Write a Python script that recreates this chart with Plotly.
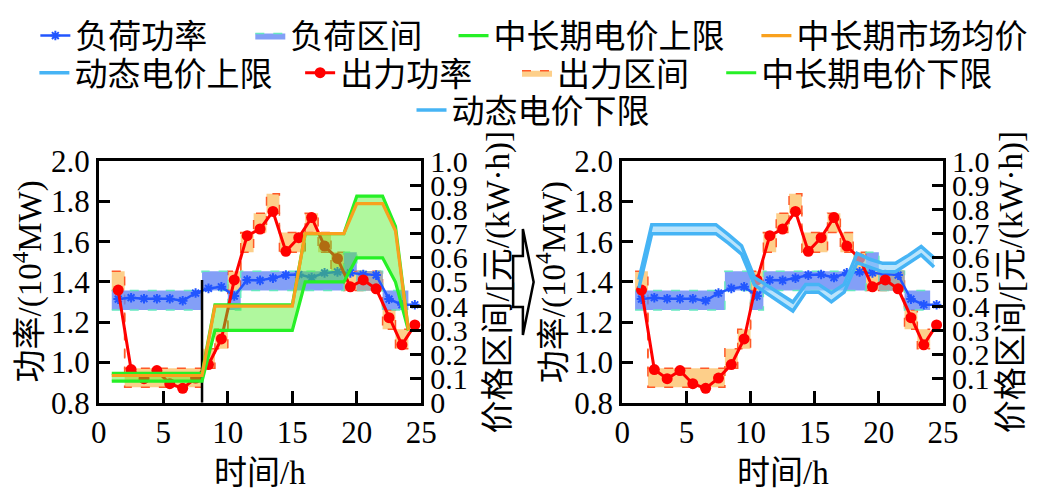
import plotly.graph_objects as go

# ---------------- data ----------------
pt_hours = [1.5, 2.5, 3.5, 4.5, 5.5, 6.5, 7.5, 8.5, 9.5, 10.5, 11.5, 12.5,
            13.5, 14.5, 15.5, 16.5, 17.5, 18.5, 19.5, 20.5, 21.5, 22.5, 23.5, 24.5]
load_power = [1.315, 1.322, 1.317, 1.317, 1.317, 1.307, 1.345, 1.368, 1.376, 1.330, 1.410, 1.408,
              1.419, 1.434, 1.437, 1.422, 1.445, 1.450, 1.445, 1.437, 1.434, 1.315, 1.287, 1.287]
output_power = [1.360, 0.965, 0.920, 0.960, 0.895, 0.872, 0.923, 0.990, 1.117, 1.410, 1.630, 1.663,
                1.750, 1.552, 1.620, 1.720, 1.578, 1.517, 1.376, 1.410, 1.366, 1.223, 1.088, 1.187]

band_edges = [1, 2, 3, 4, 5, 6, 7, 8, 9, 10, 11, 12, 13, 14, 15, 16, 17, 18, 19, 20, 21, 22, 23, 24]
load_band_low = [1.261, 1.261, 1.261, 1.261, 1.261, 1.261, 1.261, 1.358, 1.358, 1.261, 1.358, 1.358,
                 1.358, 1.358, 1.358, 1.358, 1.358, 1.358, 1.453, 1.358, 1.358, 1.261, 1.261]
load_band_high = [1.358, 1.358, 1.358, 1.358, 1.358, 1.358, 1.358, 1.453, 1.453, 1.358, 1.453, 1.453,
                  1.453, 1.453, 1.453, 1.453, 1.453, 1.453, 1.548, 1.453, 1.453, 1.358, 1.358]
output_band_low = [1.358, 0.877, 0.877, 0.877, 0.877, 0.877, 0.877, 0.972, 1.069, 1.358, 1.548, 1.645,
                   1.741, 1.548, 1.548, 1.645, 1.548, 1.453, 1.358, 1.358, 1.358, 1.165, 1.069]
output_band_high = [1.453, 0.972, 0.972, 0.972, 0.972, 0.972, 0.972, 1.069, 1.165, 1.453, 1.645, 1.741,
                    1.838, 1.645, 1.645, 1.741, 1.645, 1.548, 1.453, 1.453, 1.453, 1.261, 1.165]

price_hours = [1, 2, 3, 4, 5, 6, 7, 8, 9, 10, 11, 12, 13, 14, 15, 16, 17, 18, 19, 20, 21, 22, 23, 24]
mlt_upper = [0.122, 0.122, 0.122, 0.122, 0.122, 0.122, 0.122, 0.122, 0.405, 0.405, 0.405, 0.405,
             0.405, 0.405, 0.405, 0.700, 0.700, 0.700, 0.700, 0.855, 0.855, 0.855, 0.730, 0.300]
mlt_mean = [0.113, 0.113, 0.113, 0.113, 0.113, 0.113, 0.113, 0.113, 0.400, 0.400, 0.400, 0.400,
            0.400, 0.400, 0.400, 0.700, 0.700, 0.700, 0.700, 0.824, 0.824, 0.824, 0.712, 0.300]
mlt_lower = [0.090, 0.090, 0.090, 0.090, 0.090, 0.090, 0.090, 0.090, 0.300, 0.300, 0.300, 0.300,
             0.300, 0.300, 0.300, 0.500, 0.500, 0.500, 0.500, 0.600, 0.600, 0.600, 0.500, 0.300]

dyn_hours = [1.3, 2.3, 3.3, 4.3, 5.3, 6.3, 7.3, 8.3, 9.3, 10.3, 11.3, 12.3,
             13.3, 14.3, 15.3, 16.3, 17.3, 18.3, 19.3, 20.3, 21.3, 22.3, 23.3, 24.3]
dyn_upper = [0.510, 0.737, 0.737, 0.737, 0.737, 0.737, 0.737, 0.695, 0.650, 0.519, 0.485, 0.451,
             0.417, 0.490, 0.490, 0.455, 0.490, 0.618, 0.594, 0.577, 0.577, 0.610, 0.647, 0.600]
dyn_lower = [0.475, 0.700, 0.700, 0.700, 0.700, 0.700, 0.700, 0.660, 0.615, 0.488, 0.452, 0.415,
             0.380, 0.458, 0.458, 0.418, 0.458, 0.580, 0.562, 0.542, 0.542, 0.575, 0.612, 0.562]

divider_x = [8, 8]
divider_y = [0.8, 1.41]

x_ticks = [0, 5, 10, 15, 20, 25]
power_ticks = [0.8, 1.0, 1.2, 1.4, 1.6, 1.8, 2.0]
price_ticks = [0, 0.1, 0.2, 0.3, 0.4, 0.5, 0.6, 0.7, 0.8, 0.9, 1.0]
price_tick_text = ["0", "0.1", "0.2", "0.3", "0.4", "0.5", "0.6", "0.7", "0.8", "0.9", "1.0"]

# ---------------- styles ----------------
FONT = "Liberation Serif, Noto Sans CJK SC"
W, H = 1044, 498
C_LOAD = "#2256FF"
C_LOAD_FILL = "rgba(100,135,245,0.8)"
C_LOAD_EDGE = "#66E8C0"
C_OUT = "#FF0000"
C_OUT_FILL = "rgba(252,196,112,0.82)"
C_OUT_EDGE = "#FF5A28"
C_GREEN = "#26F026"
C_GREEN_FILL = "rgba(80,240,40,0.45)"
C_ORANGE = "#F9A11E"
C_DYN = "#46B4F5"
C_DYN_FILL = "rgba(140,210,250,0.6)"
C_GRAY = "#A9A9A9"

# legend slots: (legend id, text start x px, row centre y px)
LEG = {
    "负荷功率": ("legend", 68, 20),
    "负荷区间": ("legend2", 288, 20),
    "中长期电价上限": ("legend3", 496, 20),
    "中长期市场均价": ("legend4", 806, 20),
    "动态电价上限": ("legend5", 67, 60),
    "出力功率": ("legend6", 339, 60),
    "出力区间": ("legend7", 561, 60),
    "中长期电价下限": ("legend8", 770, 60),
    "动态电价下限": ("legend9", 453, 100),
}


def stair(vals):
    return list(vals) + [vals[-1]]


def leg(name, show):
    if not show:
        return dict(showlegend=False)
    return dict(name=name, showlegend=True, legend=LEG[name][0])


fig = go.Figure()


def add_power_panel(xa, ya, show_leg, divider):
    fig.add_trace(go.Scatter(x=band_edges, y=stair(output_band_low), xaxis=xa, yaxis=ya, mode="lines",
                             line=dict(color=C_OUT_EDGE, width=1.5, dash="dash", shape="hv"),
                             showlegend=False, hoverinfo="skip"))
    fig.add_trace(go.Scatter(x=band_edges, y=stair(output_band_high), xaxis=xa, yaxis=ya, mode="lines",
                             line=dict(color=C_OUT_EDGE, width=1.5, dash="dash", shape="hv"),
                             fill="tonexty", fillcolor=C_OUT_FILL, **leg("出力区间", show_leg)))
    fig.add_trace(go.Scatter(x=band_edges, y=stair(load_band_low), xaxis=xa, yaxis=ya, mode="lines",
                             line=dict(color=C_LOAD_EDGE, width=1.5, dash="dash", shape="hv"),
                             showlegend=False, hoverinfo="skip"))
    fig.add_trace(go.Scatter(x=band_edges, y=stair(load_band_high), xaxis=xa, yaxis=ya, mode="lines",
                             line=dict(color=C_LOAD_EDGE, width=1.5, dash="dash", shape="hv"),
                             fill="tonexty", fillcolor=C_LOAD_FILL, **leg("负荷区间", show_leg)))
    gx, gy = [], []
    for i in range(len(load_band_low)):
        lo = max(load_band_low[i], output_band_low[i])
        hi = min(load_band_high[i], output_band_high[i])
        if hi - lo > 1e-6:
            x0, x1 = band_edges[i], band_edges[i + 1]
            gx += [x0, x1, x1, x0, x0, None]
            gy += [lo, lo, hi, hi, lo, None]
    fig.add_trace(go.Scatter(x=gx, y=gy, xaxis=xa, yaxis=ya, mode="lines", fill="toself",
                             fillcolor=C_GRAY, line=dict(width=0), showlegend=False, hoverinfo="skip"))
    fig.add_trace(go.Scatter(x=pt_hours, y=load_power, xaxis=xa, yaxis=ya, mode="lines+markers",
                             line=dict(color=C_LOAD, width=2.5),
                             marker=dict(symbol="asterisk-open", size=8, color=C_LOAD,
                                         line=dict(color=C_LOAD, width=2)),
                             **leg("负荷功率", show_leg)))
    fig.add_trace(go.Scatter(x=pt_hours, y=output_power, xaxis=xa, yaxis=ya, mode="lines+markers",
                             line=dict(color=C_OUT, width=3),
                             marker=dict(symbol="circle", size=11, color=C_OUT),
                             **leg("出力功率", show_leg)))
    if divider:
        fig.add_trace(go.Scatter(x=divider_x, y=divider_y, xaxis=xa, yaxis=ya, mode="lines",
                                 line=dict(color="black", width=2.5), showlegend=False, hoverinfo="skip"))


# left panel
add_power_panel("x", "y", True, True)
fig.add_trace(go.Scatter(x=price_hours + price_hours[::-1], y=mlt_upper + mlt_lower[::-1],
                         xaxis="x", yaxis="y2", mode="lines", fill="toself", fillcolor=C_GREEN_FILL,
                         line=dict(width=0), showlegend=False, hoverinfo="skip"))
fig.add_trace(go.Scatter(x=price_hours, y=mlt_lower, xaxis="x", yaxis="y2", mode="lines",
                         line=dict(color=C_GREEN, width=3.2), **leg("中长期电价下限", True)))
fig.add_trace(go.Scatter(x=price_hours, y=mlt_upper, xaxis="x", yaxis="y2", mode="lines",
                         line=dict(color=C_GREEN, width=3.2), **leg("中长期电价上限", True)))
fig.add_trace(go.Scatter(x=price_hours, y=mlt_mean, xaxis="x", yaxis="y2", mode="lines",
                         line=dict(color=C_ORANGE, width=3.2), **leg("中长期市场均价", True)))

# right panel
add_power_panel("x2", "y3", False, False)
fig.add_trace(go.Scatter(x=dyn_hours + dyn_hours[::-1], y=dyn_upper + dyn_lower[::-1],
                         xaxis="x2", yaxis="y4", mode="lines", fill="toself", fillcolor=C_DYN_FILL,
                         line=dict(width=0), showlegend=False, hoverinfo="skip"))
fig.add_trace(go.Scatter(x=dyn_hours, y=dyn_upper, xaxis="x2", yaxis="y4", mode="lines",
                         line=dict(color=C_DYN, width=3.5), **leg("动态电价上限", True)))
fig.add_trace(go.Scatter(x=dyn_hours, y=dyn_lower, xaxis="x2", yaxis="y4", mode="lines",
                         line=dict(color=C_DYN, width=3.5), **leg("动态电价下限", True)))

# ---------------- layout ----------------
Y0, Y1 = 1 - 415 / H, 1 - 155 / H
LD = [93 / W, 423 / W]
RD = [628.7 / W, 957 / W]
TICKFONT = dict(family=FONT, size=31, color="black")
RTICKFONT = dict(family=FONT, size=30, color="black")

common_x = dict(range=[0, 25], tickvals=x_ticks, ticks="inside", ticklen=12, tickwidth=3,
                tickcolor="black", showline=True, linewidth=3, linecolor="black", mirror=True,
                showgrid=False, zeroline=False, tickfont=TICKFONT)
common_yp = dict(range=[0.8, 2.0], tickvals=power_ticks, tickformat=".1f", ticks="inside", ticklen=11,
                 tickwidth=3, tickcolor="black", showline=True, linewidth=3, linecolor="black",
                 showgrid=False, zeroline=False, tickfont=TICKFONT)
common_yq = dict(range=[0, 1.0], tickvals=price_ticks, ticktext=price_tick_text, ticks="inside",
                 ticklen=11, tickwidth=3, tickcolor="black", showline=True, linewidth=3,
                 linecolor="black", showgrid=False, zeroline=False, side="right", tickfont=RTICKFONT)

legends = {}
for name, (lid, tx, ty) in LEG.items():
    legends[lid] = dict(orientation="h", x=(tx - 40) / W, y=1 - ty / H, xanchor="left", yanchor="middle",
                        font=dict(family=FONT, size=33, color="black"),
                        bgcolor="rgba(0,0,0,0)", borderwidth=0)

fig.update_layout(
    width=W, height=H, margin=dict(l=0, r=0, t=0, b=0),
    paper_bgcolor="white", plot_bgcolor="rgba(0,0,0,0)",
    font=dict(family=FONT, size=31, color="black"),
    xaxis=dict(domain=LD, anchor="y", **common_x),
    yaxis=dict(domain=[Y0, Y1], anchor="x", **common_yp),
    yaxis2=dict(overlaying="y", anchor="x", **common_yq),
    xaxis2=dict(domain=RD, anchor="y3", **common_x),
    yaxis3=dict(domain=[Y0, Y1], anchor="x2", **common_yp),
    yaxis4=dict(overlaying="y3", anchor="x2", **common_yq),
    showlegend=True,
    **legends,
)

TITLEFONT = dict(family=FONT, size=33, color="black")
annos = [
    dict(text="功率/(10<sup>4</sup>MW)", x=21 / W, y=(Y0 + Y1) / 2, textangle=-90),
    dict(text="价格区间/[元/(kW·h)]", x=503 / W, y=(Y0 + Y1) / 2, textangle=-90),
    dict(text="功率/(10<sup>4</sup>MW)", x=557 / W, y=(Y0 + Y1) / 2, textangle=-90),
    dict(text="价格区间/[元/(kW·h)]", x=1028 / W, y=(Y0 + Y1) / 2, textangle=-90),
    dict(text="时间/h", x=(LD[0] + LD[1]) / 2, y=1 - 490 / H, textangle=0),
    dict(text="时间/h", x=(RD[0] + RD[1]) / 2, y=1 - 490 / H, textangle=0),
]
for a in annos:
    fig.add_annotation(xref="paper", yref="paper", xanchor="center", yanchor="middle",
                       showarrow=False, font=TITLEFONT, **a)


def P(px, py):
    return f"{px / W:.5f},{1 - py / H:.5f}"


arrow_path = ("M" + P(517, 257) + " L" + P(527, 257) + " L" + P(527, 228) + " L" + P(538, 285) +
              " L" + P(527, 342) + " L" + P(527, 312) + " L" + P(517, 312) + " Z")
fig.add_shape(type="path", xref="paper", yref="paper", path=arrow_path,
              line=dict(color="black", width=2.5), fillcolor="white")

fig.write_html("out.html")
